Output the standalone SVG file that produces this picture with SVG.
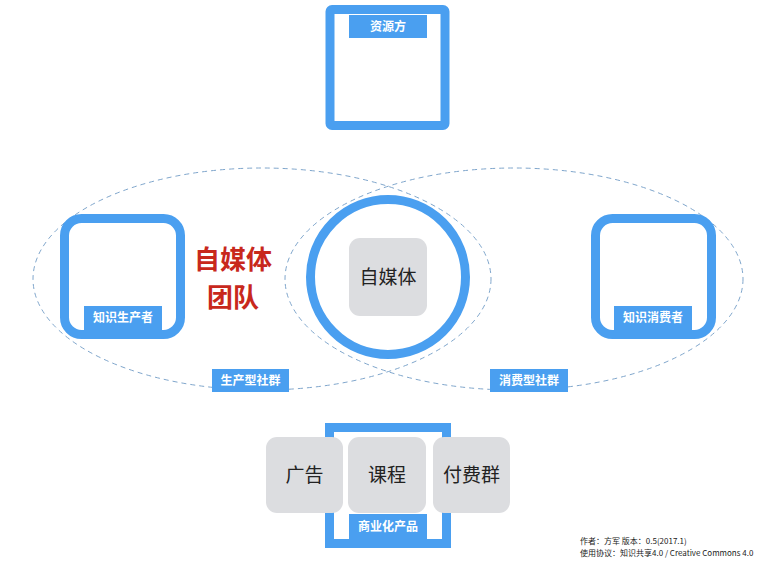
<svg xmlns="http://www.w3.org/2000/svg" width="772" height="566" viewBox="0 0 772 566">
<style>
.frame{fill:none;stroke:#4a9ff0;stroke-width:9}
.lab{fill:#4a9ff0}
.lt{fill:#fff;font-family:"Noto Sans CJK SC",sans-serif;font-size:12px;font-weight:bold;text-anchor:middle}
.gray{fill:#dcdde0}
.gt{fill:#222;font-family:"Noto Sans CJK SC",sans-serif;font-size:19px;text-anchor:middle}
.ell{fill:none;stroke:#7fa6cc;stroke-width:1;stroke-dasharray:5 4}
.red{fill:#c8281c;font-family:"Noto Sans CJK SC",sans-serif;font-size:26px;font-weight:bold;text-anchor:middle}
.foot{fill:#222;font-family:"Noto Sans CJK SC",sans-serif;font-size:8px}
</style>
<rect width="772" height="566" fill="#fff"/>
<g id="connectors">
<ellipse class="ell" cx="262" cy="279" rx="229" ry="111"/>
<ellipse class="ell" cx="514" cy="279" rx="229" ry="111"/>
</g>
<g id="resource">
<rect class="frame" x="330" y="9.5" width="115" height="116" rx="2"/>
<rect class="lab" x="349" y="15" width="78" height="23"/>
<text class="lt" x="388" y="31" font-size="13">资源方</text>
</g>
<g id="producer">
<rect class="frame" x="64.5" y="218.5" width="116" height="116" rx="17"/>
<rect class="lab" x="84" y="306" width="78" height="24"/>
<text class="lt" x="123" y="322">知识生产者</text>
</g>
<g id="team">
<text class="red" x="233" y="269">自媒体</text>
<text class="red" x="233" y="307">团队</text>
</g>
<g id="consumer">
<rect class="frame" x="595.5" y="218.5" width="116" height="116" rx="17"/>
<rect class="lab" x="614" y="306" width="78" height="24"/>
<text class="lt" x="653" y="322">知识消费者</text>
</g>
<g id="selfmedia">
<circle cx="388" cy="277" r="77.5" fill="#fff" stroke="#4a9ff0" stroke-width="9"/>
<rect class="gray" x="349" y="238" width="78" height="78" rx="11"/>
<text class="gt" x="388" y="284">自媒体</text>
</g>
<g id="producer-community">
<rect class="lab" x="212" y="369" width="77" height="23"/>
<text class="lt" x="250.5" y="385">生产型社群</text>
</g>
<g id="consumer-community">
<rect class="lab" x="490" y="369" width="78" height="23"/>
<text class="lt" x="529" y="385">消费型社群</text>
</g>
<g id="products">
<rect class="frame" x="329.5" y="427.5" width="117" height="116"/>
<rect class="gray" x="266" y="437" width="77" height="76" rx="11"/>
<text class="gt" x="304.5" y="482">广告</text>
<rect class="gray" x="348" y="437" width="78" height="76" rx="11"/>
<text class="gt" x="387" y="482">课程</text>
<rect class="gray" x="433" y="437" width="77" height="76" rx="11"/>
<text class="gt" x="471.5" y="482">付费群</text>
<rect class="lab" x="349" y="514" width="78" height="25"/>
<text class="lt" x="388" y="531">商业化产品</text>
</g>
<g id="footer">
<text class="foot" x="580" y="544">作者：方军  版本：0.5(2017.1)</text>
<text class="foot" x="580" y="556">使用协议：知识共享4.0 / Creative Commons 4.0</text>
</g>
</svg>
